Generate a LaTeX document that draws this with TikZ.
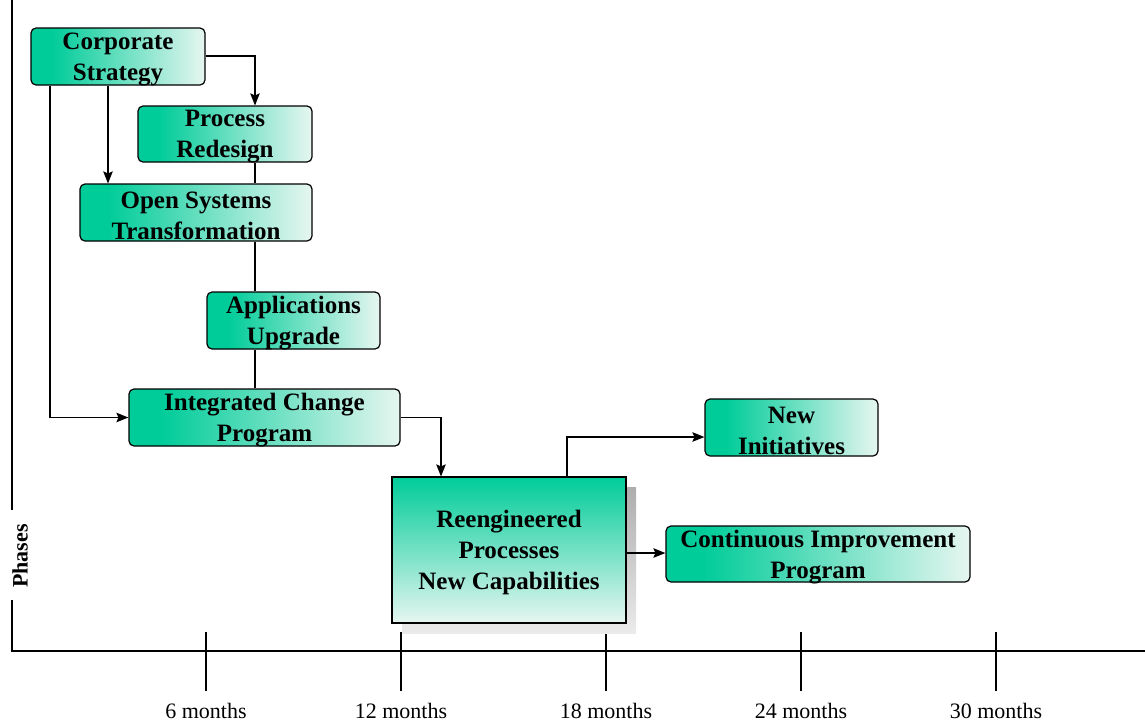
\documentclass[tikz,border=0pt]{standalone}
\usepackage{fontspec}
\setmainfont{Liberation Serif}
\usetikzlibrary{arrows.meta,shadings}

\definecolor{tealA}{RGB}{0,204,153}
\definecolor{tealB}{RGB}{230,246,240}

% horizontal fade used by the rounded phase boxes
\pgfdeclarehorizontalshading{tealfade}{100bp}{%
  color(0bp)=(tealA); color(31bp)=(tealA); color(75bp)=(tealB); color(100bp)=(tealB)}
% vertical fade used by the outcome box
\pgfdeclareverticalshading{tealdrop}{100bp}{%
  color(0bp)=(tealB); color(25bp)=(tealB); color(75bp)=(tealA); color(100bp)=(tealA)}

\tikzset{
  phasebox/.style={draw=black, line width=1.2pt, rounded corners=5pt,
    shading=tealfade, inner sep=0pt},
  outbox/.style={draw=black, line width=1.2pt, shading=tealdrop, inner sep=0pt},
  boxtext/.style={inner sep=0pt, align=center,
    font=\fontsize{25}{31}\selectfont\bfseries},
  link/.style={line width=1.2pt},
  arr/.style={link, -{Stealth[length=12pt,width=9.5pt,inset=2pt]}},
  axis/.style={line width=1.3pt},
  ticklabel/.style={font=\fontsize{22}{24}\selectfont, inner sep=0pt}
}

\begin{document}
\begin{tikzpicture}[x=1pt,y=-1pt]
\useasboundingbox (0,0) rectangle (1145,724);

% axes
\coordinate (vtop) at (12,0);
\coordinate (vgap1) at (12,510);
\coordinate (vgap2) at (12,600);
\coordinate (origin) at (12,651);
\coordinate (hend) at (1145,651);
\draw[axis] (vtop) -- (vgap1);
\draw[axis] (vgap2) -- (origin) -- (hend);
\node[rotate=90, font=\fontsize{22}{24}\selectfont\bfseries, inner sep=0pt] (phases) at (20,556) {Phases};

% time ticks
\foreach \x/\t [count=\i] in {206/6, 401/12, 606/18, 801/24, 996/30} {
  \coordinate (tt\i) at (\x,632);
  \coordinate (tb\i) at (\x,691);
  \draw[axis] (tt\i) -- (tb\i);
  \node[ticklabel] (tl\i) at (\x,711) {\t\ months};
}

% phase boxes
\node[phasebox, minimum width=174pt, minimum height=57pt] (cs) at (118,56.5) {};
\node[phasebox, minimum width=174pt, minimum height=56pt] (pr) at (225,134) {};
\node[phasebox, minimum width=232pt, minimum height=57pt] (os) at (196,212.5) {};
\node[phasebox, minimum width=173pt, minimum height=57pt] (au) at (293.5,320.5) {};
\node[phasebox, minimum width=271pt, minimum height=57pt] (ic) at (264.5,417.5) {};
\node[phasebox, minimum width=173pt, minimum height=57pt] (ni) at (791.5,427.5) {};
\node[phasebox, minimum width=304pt, minimum height=56pt] (ci) at (818,554) {};

% outcome box with its drop shadow
\shade[top color=black!32, bottom color=black!8] (402,487) rectangle (636,633);
\node[outbox, minimum width=234pt, minimum height=146pt] (re) at (509,550) {};

% box captions, set a little below each box centre
\node[boxtext] (cs-t) at ([yshift=-3pt]cs.center) {Corporate\\Strategy};
\node[boxtext] (pr-t) at ([yshift=-3pt]pr.center) {Process\\Redesign};
\node[boxtext] (os-t) at ([yshift=-3pt]os.center) {Open Systems\\Transformation};
\node[boxtext] (au-t) at ([yshift=-3pt]au.center) {Applications\\Upgrade};
\node[boxtext] (ic-t) at ([yshift=-3pt]ic.center) {Integrated Change\\Program};
\node[boxtext] (ni-t) at ([yshift=-3pt]ni.center) {New\\Initiatives};
\node[boxtext] (ci-t) at ([yshift=-3pt]ci.center) {Continuous Improvement\\Program};
\node[boxtext] (re-t) at ([yshift=-2pt]re.center) {Reengineered\\Processes\\New Capabilities};

% connectors
\draw[arr] (cs.east |- 0,56) -| (pr.north -| 255,0);
\draw[arr] (cs.south -| 108,0) -- (os.north -| 108,0);
\draw[arr] (cs.south -| 50,0) |- (ic.west);
\draw[link] (pr.south -| 255,0) -- (os.north -| 255,0);
\draw[link] (os.south -| 255,0) -- (au.north -| 255,0);
\draw[link] (au.south -| 255,0) -- (ic.north -| 255,0);
\draw[arr] (ic.east) -| (re.north -| 441,0);
\draw[arr] (re.north -| 567,0) |- (ni.west |- 0,437);
\draw[arr] (re.east |- 0,553) -- (ci.west |- 0,553);
\end{tikzpicture}
\end{document}
